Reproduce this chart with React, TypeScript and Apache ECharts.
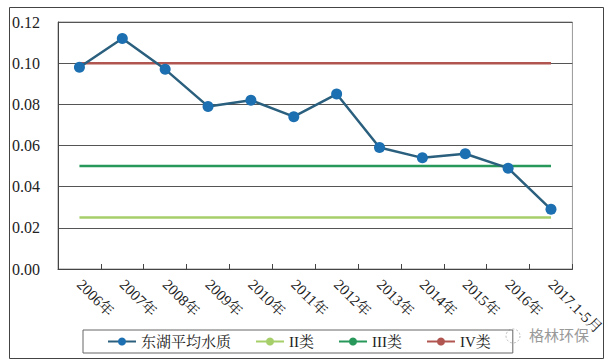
import React, { useEffect, useRef } from "react";
import * as echarts from "echarts";

const categories = ["2006年", "2007年", "2008年", "2009年", "2010年", "2011年", "2012年", "2013年", "2014年", "2015年", "2016年", "2017.1-5月"];
const eastLake = [0.098, 0.112, 0.097, 0.079, 0.082, 0.074, 0.085, 0.059, 0.054, 0.056, 0.049, 0.029];
const classII = [0.025, 0.025, 0.025, 0.025, 0.025, 0.025, 0.025, 0.025, 0.025, 0.025, 0.025, 0.025];
const classIII = [0.05, 0.05, 0.05, 0.05, 0.05, 0.05, 0.05, 0.05, 0.05, 0.05, 0.05, 0.05];
const classIV = [0.1, 0.1, 0.1, 0.1, 0.1, 0.1, 0.1, 0.1, 0.1, 0.1, 0.1, 0.1];
const seriesNames = ["东湖平均水质", "II类", "III类", "IV类"];

const FONT = "'Liberation Serif', 'Noto Serif CJK SC', 'Noto Sans CJK SC', serif";

export default function App() {
  const ref = useRef<HTMLDivElement>(null);
  useEffect(() => {
    if (!ref.current) return;
    const chart = echarts.init(ref.current, null, { renderer: "svg" });
    chart.setOption({
      animation: false,
      backgroundColor: "#fff",
      textStyle: { fontFamily: FONT },
      grid: {
        left: 58,
        top: 22,
        right: 34,
        bottom: 91,
        show: true,
        borderColor: "#999",
        borderWidth: 1,
      },
      legend: {
        left: 83,
        top: 330,
        data: seriesNames,
        borderColor: "#666",
        borderWidth: 1,
        padding: [4, 22, 4, 24],
        itemGap: 24,
        itemWidth: 28,
        itemHeight: 10,
        textStyle: { fontFamily: FONT, fontSize: 15, color: "#222" },
      },
      xAxis: {
        type: "category",
        data: categories,
        boundaryGap: true,
        axisLine: { show: true, lineStyle: { color: "#444", width: 1 } },
        axisTick: { show: true, inside: true, length: 5, lineStyle: { color: "#444" } },
        axisLabel: {
          rotate: -45,
          margin: 13,
          interval: 0,
          fontFamily: FONT,
          fontSize: 15,
          color: "#222",
        },
      },
      yAxis: {
        type: "value",
        min: 0,
        max: 0.12,
        interval: 0.02,
        axisLine: { show: true, lineStyle: { color: "#444", width: 1 } },
        axisTick: { show: false },
        splitLine: { show: true, lineStyle: { color: "#555", width: 1 } },
        axisLabel: {
          margin: 18,
          fontFamily: FONT,
          fontSize: 16,
          color: "#222",
          formatter: (v: number) => v.toFixed(2),
        },
      },
      graphic: [
        {
          type: "rect",
          shape: { x: 9.5, y: 7.5, width: 594, height: 351 },
          style: { fill: "none", stroke: "#444", lineWidth: 1 },
          silent: true,
        },
        {
          type: "circle",
          shape: { cx: 513, cy: 336, r: 7 },
          style: { fill: "none", stroke: "#bbb", lineWidth: 1, lineDash: [2, 2] },
          silent: true,
        },
        {
          type: "text",
          x: 529,
          y: 327,
          style: { text: "格林环保", fontSize: 15, fill: "#999", fontFamily: "'Noto Sans CJK SC', sans-serif" },
          silent: true,
        },
      ],
      series: [
        {
          name: seriesNames[1],
          type: "line",
          data: classII,
          symbol: "none",
          lineStyle: { color: "#a6cf6a", width: 2.5 },
          itemStyle: { color: "#a6cf6a" },
          z: 2,
        },
        {
          name: seriesNames[2],
          type: "line",
          data: classIII,
          symbol: "none",
          lineStyle: { color: "#27985a", width: 2.5 },
          itemStyle: { color: "#27985a" },
          z: 2,
        },
        {
          name: seriesNames[3],
          type: "line",
          data: classIV,
          symbol: "none",
          lineStyle: { color: "#b05550", width: 2.5 },
          itemStyle: { color: "#b05550" },
          z: 2,
        },
        {
          name: seriesNames[0],
          type: "line",
          data: eastLake,
          symbol: "circle",
          symbolSize: 11,
          lineStyle: { color: "#2a5f7e", width: 2.5 },
          itemStyle: { color: "#1c6fb0" },
          z: 5,
        },
      ],
    });
    return () => chart.dispose();
  }, []);
  return (
    <div
      ref={ref}
      style={{ position: "fixed", left: 0, top: 0, width: 607, height: 360 }}
    />
  );
}
